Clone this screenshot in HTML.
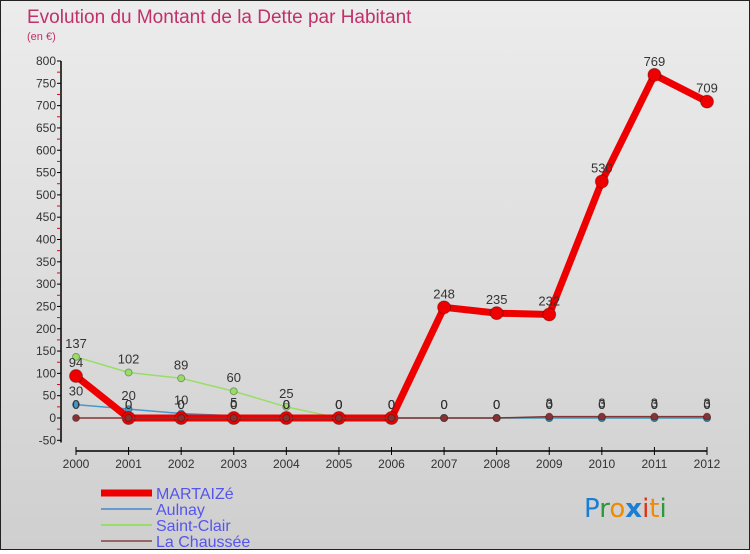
<!DOCTYPE html>
<html><head><meta charset="utf-8"><style>
body{margin:0;width:750px;height:550px;overflow:hidden;font-family:"Liberation Sans","DejaVu Sans",sans-serif;}
#wrap{position:relative;width:748px;height:548px;border:1px solid #222;background:linear-gradient(#ececec,#cfcfcf);}
</style></head><body>
<div id="wrap">
<svg id="c" width="748" height="548" xmlns="http://www.w3.org/2000/svg">
<text x="26" y="22" font-size="19" fill="#c0306a" font-family="Liberation Sans, sans-serif">Evolution du Montant de la Dette par Habitant</text>
<text x="26" y="39" font-size="11" fill="#c0306a">(en €)</text>
<g id="axes"></g><g id="series"></g><g id="legend"></g>
<text x="583" y="516" font-size="26" font-family="DejaVu Sans, sans-serif"><tspan fill="#1a7fd4">P</tspan><tspan fill="#2a9a3a">r</tspan><tspan fill="#f08a00">o</tspan><tspan fill="#1a7fd4" font-weight="bold">x</tspan><tspan fill="#e03010">i</tspan><tspan fill="#f08a00">t</tspan><tspan fill="#2a9a3a">i</tspan></text>
</svg></div>
<script>
const years=[2000,2001,2002,2003,2004,2005,2006,2007,2008,2009,2010,2011,2012];
const martaize=[94,0,0,0,0,0,0,248,235,232,530,769,709];
const aulnay=[30,20,10,5,0,0,0,0,0,0,0,0,0];
const saintClair=[137,102,89,60,25,0,0,0,0,0,0,0,0];
const chaussee=[0,0,0,0,0,0,0,0,0,3,3,3,3];
const yTicks=[-50,0,50,100,150,200,250,300,350,400,450,500,550,600,650,700,750,800];
const NS="http://www.w3.org/2000/svg";
const X=i=>75+i*(706-75)/12, Y=v=>417-v*357/800;
function el(t,a,p){const e=document.createElementNS(NS,t);for(const k in a)e.setAttribute(k,a[k]);p.appendChild(e);return e;}
const ax=document.getElementById('axes');
let yl=el('line',{x1:60,y1:Y(800),x2:60,y2:Y(-55),stroke:'#000','stroke-width':1.5},ax);

yTicks.forEach(v=>{
 el('line',{x1:56,y1:Y(v),x2:60,y2:Y(v),stroke:'#000'},ax);
 if(v<800)el('line',{x1:56,y1:Y(v+25),x2:59,y2:Y(v+25),stroke:'#e00'},ax);
 const t=el('text',{x:55,y:Y(v)+4,'font-size':12,fill:'#333','text-anchor':'end'},ax);t.textContent=v;
 
});
let xl=el('line',{x1:75,y1:450,x2:706,y2:450,stroke:'#000','stroke-width':1.5},ax);

years.forEach((y,i)=>{
 el('line',{x1:X(i),y1:446,x2:X(i),y2:454,stroke:'#000'},ax);
 const t=el('text',{x:X(i),y:467,'font-size':12,fill:'#333','text-anchor':'middle'},ax);t.textContent=y;
 
});
const sg=document.getElementById('series');
function series(vals,color,w,r,name){
 const g=el('g',{},sg);
 const p=el('polyline',{points:vals.map((v,i)=>X(i)+','+Y(v)).join(' '),fill:'none',stroke:color,'stroke-width':w},g);
 
 vals.forEach((v,i)=>{
  const c=el('circle',{cx:X(i),cy:Y(v),r:r,fill:color,stroke:'rgba(0,0,0,0.3)'},g);
  
  const t=el('text',{x:X(i),y:Y(v)-9,'font-size':13,fill:'#333','text-anchor':'middle'},g);t.textContent=v;
  
 });
}
series(saintClair,'#99dd66',1.5,3.5,'saint-clair');
series(aulnay,'#4499cc',1.5,3.5,'aulnay');
series(martaize,'#ee0000',7,6.5,'martaize');
series(chaussee,'#883333',1.5,3.5,'la-chaussee');
const lg=document.getElementById('legend');
[['MARTAIZé','#ee0000',7],['Aulnay','#6699cc',2],['Saint-Clair','#99dd66',2],['La Chaussée','#996666',2]].forEach((d,i)=>{
 const y=492+i*16;
 const g=el('g',{},lg);
 el('line',{x1:100,y1:y,x2:151,y2:y,stroke:d[1],'stroke-width':d[2]},g);
 const t=el('text',{x:155,y:y+6,'font-size':16,fill:'#5555ee'},g);t.textContent=d[0];
});
</script>
</body></html>
